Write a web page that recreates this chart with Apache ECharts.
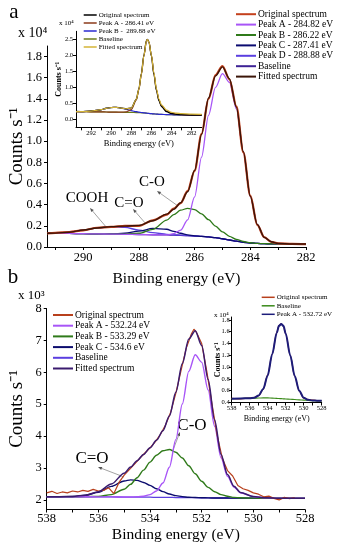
<!DOCTYPE html>
<html><head><meta charset="utf-8">
<script src="https://cdn.jsdelivr.net/npm/echarts@6/dist/echarts.min.js"></script>
<style>html,body{margin:0;padding:0;background:#fff}#c{width:339px;height:550px}</style>
</head><body><div id="c"></div>
<script>
// ---------- Panel a (C 1s), main ----------
const aX = [291.3, 291, 290.5, 290, 289.5, 289, 288.5, 288, 287.5, 287, 286.75, 286.5, 286.25, 286, 285.75, 285.5, 285.25, 285, 284.75, 284.5, 284.25, 284, 283.75, 283.5, 283.25, 283, 282.5, 282];
const aBaseline = [0.13,0.13,0.128,0.126,0.124,0.122,0.12,0.118,0.116,0.114,0.112,0.11,0.107,0.104,0.1,0.095,0.088,0.078,0.066,0.055,0.045,0.038,0.034,0.031,0.03,0.029,0.028,0.028];
const aPeakD = [0.13,0.131,0.14,0.16,0.18,0.192,0.185,0.16,0.135,0.12,0.115,0.112,0.107,0.104,0.1,0.095,0.088,0.078,0.066,0.055,0.045,0.038,0.034,0.031,0.03,0.029,0.028,0.028];
const aPeakC = [0.13,0.13,0.128,0.126,0.124,0.123,0.13,0.15,0.176,0.168,0.148,0.13,0.115,0.106,0.1,0.095,0.088,0.078,0.066,0.055,0.045,0.038,0.034,0.031,0.03,0.029,0.028,0.028];
const aPeakB = [0.13,0.13,0.128,0.126,0.124,0.122,0.122,0.13,0.167,0.254,0.306,0.348,0.366,0.354,0.314,0.258,0.197,0.143,0.101,0.072,0.052,0.04,0.034,0.031,0.03,0.029,0.028,0.028];
const aPeakA = [0.13,0.13,0.128,0.126,0.124,0.122,0.12,0.118,0.116,0.114,0.127,0.16,0.257,0.474,0.85,1.245,1.508,1.638,1.556,1.305,0.895,0.478,0.214,0.091,0.05,0.034,0.028,0.028];
const aFitted = [0.13,0.131,0.14,0.16,0.18,0.193,0.197,0.204,0.248,0.311,0.357,0.418,0.522,0.725,1.064,1.408,1.617,1.703,1.591,1.322,0.902,0.48,0.214,0.091,0.05,0.034,0.028,0.028];
const aOriginal = [0.128,0.133,0.142,0.158,0.182,0.19,0.2,0.2,0.252,0.306,0.362,0.415,0.53,0.72,1.07,1.4,1.625,1.71,1.585,1.33,0.895,0.485,0.21,0.093,0.048,0.035,0.03,0.027];
const aXLabels = [282, 284, 286, 288, 290];
const aXTicks = [282, 283, 284, 285, 286, 287, 288, 289, 290, 291];
const aYLabels = [0, 0.2, 0.4, 0.6, 0.8, 1.0, 1.2, 1.4, 1.6, 1.8];

// ---------- Panel a, inset ----------
const iaX = [293.5, 293, 292, 291, 290.5, 290, 289.5, 289, 288.5, 288, 287.5, 287.25, 287, 286.75, 286.5, 286.4, 286.25, 286, 285.75, 285.5, 285.25, 285, 284.5, 284, 283.5, 283, 282, 281];
const iaBaseline = [0.24,0.24,0.235,0.23,0.228,0.225,0.222,0.22,0.218,0.215,0.21,0.207,0.203,0.198,0.19,0.187,0.182,0.175,0.168,0.162,0.157,0.153,0.147,0.142,0.138,0.135,0.132,0.13];
const iaPeakB = [0.24,0.242,0.255,0.3,0.34,0.368,0.372,0.348,0.31,0.268,0.237,0.224,0.213,0.203,0.193,0.189,0.183,0.175,0.168,0.162,0.157,0.153,0.147,0.142,0.138,0.135,0.132,0.13];
const iaPeakA = [0.24,0.24,0.235,0.23,0.228,0.225,0.222,0.222,0.235,0.3,0.6,0.92,1.4,1.98,2.44,2.49,2.42,2.0,1.42,0.92,0.6,0.42,0.26,0.19,0.16,0.147,0.135,0.13];
const iaFitted = [0.24,0.242,0.255,0.3,0.34,0.368,0.372,0.35,0.327,0.353,0.627,0.937,1.41,1.985,2.443,2.492,2.421,2.0,1.45,0.95,0.63,0.45,0.29,0.22,0.19,0.175,0.16,0.155];
const iaOriginal = [0.245,0.24,0.26,0.298,0.345,0.365,0.375,0.352,0.33,0.36,0.63,0.95,1.43,2.0,2.46,2.5,2.42,1.98,1.4,0.9,0.58,0.4,0.24,0.18,0.155,0.145,0.135,0.13];
const iaXLabels = [282, 284, 286, 288, 290, 292];
const iaXTicks = [282, 283, 284, 285, 286, 287, 288, 289, 290, 291, 292, 293];
const iaYLabels = [0, 0.5, 1.0, 1.5, 2.0, 2.5];

// ---------- Panel b (O 1s), main ----------
const bX = [538, 537.5, 537, 536.5, 536, 535.5, 535, 534.75, 534.5, 534.25, 534, 533.75, 533.5, 533.25, 533, 532.75, 532.5, 532.25, 532, 531.75, 531.5, 531.25, 531, 530.75, 530.5, 530, 529.5, 529, 528.5, 528];
const bBaseline = [2.1,2.1,2.1,2.1,2.095,2.095,2.09,2.09,2.09,2.085,2.085,2.08,2.08,2.08,2.075,2.075,2.07,2.07,2.065,2.065,2.06,2.06,2.06,2.055,2.055,2.055,2.05,2.05,2.05,2.05];
const bPeakC = [2.1,2.101,2.109,2.146,2.242,2.425,2.595,2.63,2.613,2.547,2.455,2.35,2.259,2.188,2.134,2.104,2.083,2.075,2.067,2.065,2.06,2.06,2.06,2.055,2.055,2.055,2.05,2.05,2.05,2.05];
const bPeakB = [2.1,2.1,2.1,2.102,2.11,2.167,2.334,2.49,2.697,2.935,3.185,3.4,3.54,3.58,3.495,3.315,3.07,2.82,2.585,2.395,2.256,2.166,2.114,2.08,2.066,2.057,2.05,2.05,2.05,2.05];
const bPeakA = [2.1,2.1,2.1,2.1,2.095,2.095,2.09,2.09,2.1,2.115,2.165,2.28,2.53,3.025,3.895,5.005,6.03,6.55,6.315,5.445,4.31,3.32,2.74,2.405,2.225,2.105,2.065,2.05,2.05,2.05];
const bFitted = [2.1,2.101,2.109,2.148,2.257,2.497,2.839,3.03,3.23,3.427,3.635,3.87,4.169,4.633,5.374,6.274,7.043,7.305,6.837,5.775,4.506,3.426,2.794,2.43,2.236,2.107,2.065,2.05,2.05,2.05];
const bOrigX = [538,537.8,537.6,537.4,537.2,537,536.8,536.6,536.4,536.2,536,535.8,535.6,535.4,535.2,535,534.8,534.6,534.4,534.2,534,533.8,533.6,533.4,533.2,533,532.8,532.6,532.4,532.3,532.2,532,531.8,531.6,531.4,531.2,531,530.8,530.6,530.4,530.2,530,529.8,529.6,529.4,529.2,529,528.8,528.6,528.4];
const bOriginal = [2.22,2.27,2.2,2.25,2.22,2.28,2.25,2.3,2.27,2.33,2.28,2.3,2.38,2.2,2.55,2.78,2.95,3.12,3.3,3.47,3.63,3.82,4.05,4.35,4.75,5.35,6.05,6.75,7.2,7.35,7.25,6.9,6.02,5.0,4.02,3.3,2.92,2.75,2.45,2.35,2.3,2.22,2.18,2.1,2.12,2.05,2.0,2.08,2.04,2.07];
const bXLabels = [528, 530, 532, 534, 536, 538];
const bXTicks = [528, 529, 530, 531, 532, 533, 534, 535, 536, 537, 538];
const bYLabels = [2, 3, 4, 5, 6, 7, 8];

// ---------- Panel b, inset ----------
const ibX = [538, 537, 536, 535.5, 535, 534.5, 534, 533.5, 533, 532.75, 532.5, 532.25, 532, 531.5, 531, 530.5, 530, 529.5, 529, 528.5, 528];
const ibBaseline = [0.465,0.468,0.472,0.474,0.476,0.478,0.478,0.474,0.47,0.468,0.465,0.462,0.46,0.455,0.45,0.445,0.44,0.435,0.43,0.428,0.425];
const ibPeakA = [0.465,0.468,0.472,0.48,0.52,0.63,0.86,1.22,1.58,1.7,1.73,1.7,1.57,1.2,0.85,0.6,0.48,0.445,0.435,0.43,0.428];
const ibOriginal = [0.47,0.462,0.475,0.485,0.515,0.625,0.87,1.215,1.585,1.705,1.735,1.695,1.565,1.205,0.845,0.595,0.475,0.45,0.44,0.43,0.43];
const ibXLabels = [528, 530, 532, 534, 536, 538];
const ibXTicks = [528, 529, 530, 531, 532, 533, 534, 535, 536, 537, 538];
const ibYLabels = [0.4, 0.6, 0.8, 1.0, 1.2, 1.4, 1.6, 1.8];

const F = "'Liberation Serif','Times New Roman',serif";
const pts = (xs, ys) => xs.map((x, i) => [x, ys[i]]);

function line(name, idx, xs, ys, color, width, smooth) {
  return {
    type: 'line', name, xAxisIndex: idx, yAxisIndex: idx, data: pts(xs, ys),
    symbol: 'none', showSymbol: false, smooth: smooth === undefined ? 0.3 : smooth,
    smoothMonotone: 'x', lineStyle: { color, width }, itemStyle: { color },
    silent: true, animation: false, clip: true
  };
}

function xAx(grid, min, max, labels, ticks, fs, margin, name, nameFs, nameGap) {
  return {
    type: 'value', gridIndex: grid, min, max, inverse: true, splitLine: { show: false },
    axisLine: { onZero: false, lineStyle: { color: '#000', width: 1 } },
    axisTick: { customValues: ticks, length: 3, lineStyle: { color: '#000' } },
    axisLabel: { customValues: labels, fontFamily: F, fontSize: fs, color: '#000', margin, formatter: v => String(v) },
    name, nameLocation: 'middle', nameGap, nameMoveOverlap: false,
    nameTextStyle: { fontFamily: F, fontSize: nameFs, color: '#000' }
  };
}
function yAx(grid, min, max, labels, fs, margin, dec, name, nameFs, nameGap, bold) {
  return {
    type: 'value', gridIndex: grid, min, max, splitLine: { show: false },
    axisLine: { show: true, onZero: false, lineStyle: { color: '#000', width: 1 } },
    axisTick: { show: true, customValues: labels, length: 3, lineStyle: { color: '#000' } },
    axisLabel: { customValues: labels, fontFamily: F, fontSize: fs, color: '#000', margin, formatter: v => v.toFixed(dec) },
    name, nameLocation: 'middle', nameGap, nameRotate: 90, nameMoveOverlap: false,
    nameTextStyle: { fontFamily: F, fontSize: nameFs, color: '#000', fontWeight: bold ? 'bold' : 'normal' }
  };
}
function legend(left, top, names, iw, ih, gap, fs) {
  return {
    orient: 'vertical', left, top, data: names, icon: 'rect', itemWidth: iw, itemHeight: ih, itemGap: gap,
    selectedMode: false, padding: 0, formatter: n => n.trim(),
    textStyle: { fontFamily: F, fontSize: fs, color: '#000', padding: [0, 0, 0, -3] }
  };
}

// names (trailing spaces keep series distinct; legend shows trimmed text)
const NA = ['Original spectrum', 'Peak A - 284.82 eV', 'Peak B - 286.22 eV', 'Peak C - 287.41 eV', 'Peak D - 288.88 eV', 'Baseline', 'Fitted spectrum'];
const NIA = ['Original spectrum ', 'Peak A - 286.41 eV', 'Peak B -  289.88 eV', 'Baseline ', 'Fitted spectrum '];
const NB = ['Original spectrum  ', 'Peak A - 532.24 eV', 'Peak B - 533.29 eV', 'Peak C - 534.6 eV', 'Baseline  ', 'Fitted spectrum  '];
const NIB = ['Original spectrum   ', 'Baseline   ', 'Peak A - 532.72 eV'];

const series = [
  // panel a
  line(NA[5], 0, aX, aBaseline, '#3d2295', 1.3),
  line(NA[4], 0, aX, aPeakD, '#5b3fe0', 1.3),
  line(NA[3], 0, aX, aPeakC, '#0a0a70', 1.3),
  line(NA[2], 0, aX, aPeakB, '#2f7a1a', 1.3),
  line(NA[1], 0, aX, aPeakA, '#a855f7', 1.3),
  line(NA[0], 0, aX, aOriginal, '#c4401c', 2.2),
  line(NA[6], 0, aX, aFitted, '#3b1508', 1.4),
  // inset a
  line(NIA[3], 1, iaX, iaBaseline, '#6b7b1b', 1.2),
  line(NIA[2], 1, iaX, iaPeakB, '#2a2ad0', 1.2),
  line(NIA[1], 1, iaX, iaPeakA, '#8b3a1a', 1.2),
  line(NIA[0], 1, iaX, iaOriginal, '#000000', 1.3),
  line(NIA[4], 1, iaX, iaFitted, '#d4b437', 1.2),
  // panel b
  line(NB[4], 2, bX, bBaseline, '#5b3fe0', 1.3),
  line(NB[3], 2, bX, bPeakC, '#0c0c6e', 1.4),
  line(NB[2], 2, bX, bPeakB, '#2f7a1a', 1.4),
  line(NB[1], 2, bX, bPeakA, '#a855f7', 1.4),
  line(NB[0], 2, bOrigX, bOriginal, '#b8401c', 1.2, false),
  line(NB[5], 2, bX, bFitted, '#3a1b6e', 1.5),
  // inset b
  line(NIB[0], 3, ibX, ibOriginal, '#b8401c', 1.2),
  line(NIB[1], 3, ibX, ibBaseline, '#3a8a1a', 1.1),
  line(NIB[2], 3, ibX, ibPeakA, '#1c1c7a', 2.0)
];

function arrow(x1, y1, x2, y2) {
  const a = Math.atan2(y1 - y2, x1 - x2), L = 4, W = 1.6;
  const bx = x1 - L * Math.cos(a), by = y1 - L * Math.sin(a);
  return [
    { type: 'line', shape: { x1: bx, y1: by, x2, y2 }, style: { stroke: '#8a8a8a', lineWidth: 0.8 }, silent: true },
    { type: 'polygon', shape: { points: [[x1, y1], [bx + W * Math.sin(a), by - W * Math.cos(a)], [bx - W * Math.sin(a), by + W * Math.cos(a)]] }, style: { fill: '#555' }, silent: true }
  ];
}
function txt(x, y, text, fs, align) {
  return { type: 'text', x, y, style: { text, font: fs + 'px ' + F, fill: '#000', align: align || 'center', verticalAlign: 'middle' }, silent: true };
}

const graphic = [
  txt(14, 12, 'a', 21), txt(13, 277, 'b', 21),
  txt(18, 33, 'x 10⁴', 14, 'left'), txt(18, 296, 'x 10³', 13, 'left'),
  txt(59, 23, 'x 10⁴', 7, 'left'), txt(214, 315, 'x 10⁴', 7, 'left'),
  txt(87, 198, 'COOH', 15), txt(129, 203, 'C=O', 15), txt(152, 182, 'C-O', 15),
  txt(192, 426, 'C-O', 17), txt(92, 459, 'C=O', 17),
  ...arrow(90, 208, 107, 228), ...arrow(133, 209, 146, 224), ...arrow(157, 191, 178, 206),
  ...arrow(180, 432, 173, 450), ...arrow(98, 467, 124, 477)
];

const G = (left, right, top, bottom) => ({ left, right, top, bottom, containLabel: false, outerBoundsMode: 'none' });
const option = {
  backgroundColor: '#fff',
  animation: false,
  grid: [
    G(47, 33, 46, 303),
    G(76, 137.3, 31.3, 422.7),
    G(46.7, 34, 308.5, 40.5),
    G(231.7, 17.3, 317, 147.5)
  ],
  xAxis: [
    xAx(0, 282, 291.3, aXLabels, aXTicks, 12.5, 4, 'Binding energy (eV)', 15.5, 24),
    xAx(1, 281, 293.5, iaXLabels, iaXTicks, 6.5, 2, 'Binding energy (eV)', 8.5, 12),
    xAx(2, 528, 538, bXLabels, bXTicks, 12.5, 3, 'Binding energy (eV)', 15.5, 17),
    xAx(3, 528, 538, ibXLabels, ibXTicks, 6.5, 2, 'Binding energy (eV)', 8, 12)
  ],
  yAxis: [
    yAx(0, 0, 1.9, aYLabels, 12.5, 5, 1, 'Counts s⁻¹', 19, 20),
    yAx(1, -0.25, 2.75, iaYLabels, 6.5, 3, 1, 'Counts s⁻¹', 8, 13, true),
    yAx(2, 1.7, 8, bYLabels, 12.5, 5, 0, 'Counts s⁻¹', 19, 20),
    yAx(3, 0.4, 1.85, ibYLabels, 6.5, 2, 1, 'Counts s⁻¹', 8, 10, true)
  ],
  legend: [
    legend(236, 9.2, NA, 20, 2, 0.4, 9.5),
    legend(83.7, 11.5, NIA, 13, 1.5, 1, 7),
    legend(53, 310, NB, 20, 2, 0.7, 9.5),
    legend(261.7, 293.8, NIB, 13, 1.5, 1.5, 7)
  ],
  series,
  graphic
};
const chart = echarts.init(document.getElementById('c'), null, { renderer: 'canvas' });
chart.setOption(option);
</script></body></html>
